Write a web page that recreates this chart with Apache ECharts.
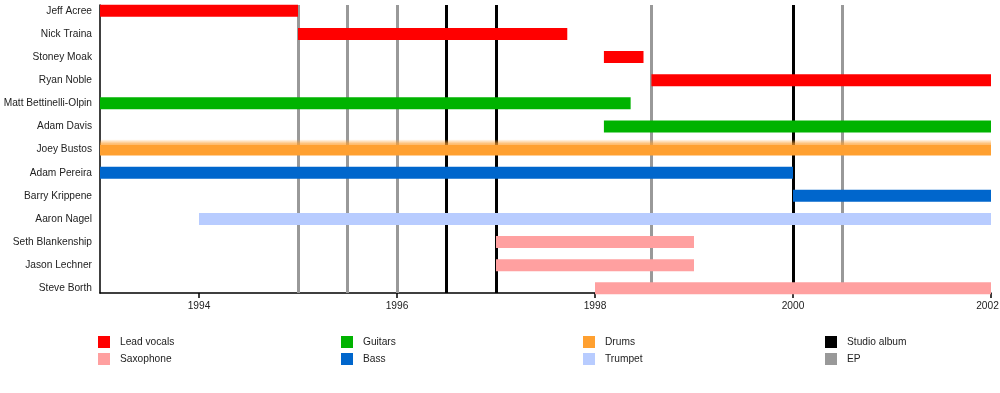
<!DOCTYPE html>
<html>
<head>
<meta charset="utf-8">
<script src="https://cdn.jsdelivr.net/npm/echarts@6/dist/echarts.min.js"></script>
<style>
html,body{margin:0;padding:0;background:#fff;}
#chart{width:1000px;height:393px;}
</style>
</head>
<body>
<div id="chart"></div>
<script>
// Members (rows, top to bottom)
const members = ['Jeff Acree','Nick Traina','Stoney Moak','Ryan Noble','Matt Bettinelli-Olpin','Adam Davis','Joey Bustos','Adam Pereira','Barry Krippene','Aaron Nagel','Seth Blankenship','Jason Lechner','Steve Borth'];
// Tenures per role: [rowIndex, startYear, endYear]
const leadVocals = [[0,1993.0,1995.0],[1,1995.0,1997.72],[2,1998.09,1998.49],[3,1998.57,2002.0]];
const guitars = [[4,1993.0,1998.36],[5,1998.09,2002.0]];
const drums = [[6,1993.0,2002.0]];
const bass = [[7,1993.0,2000.0],[8,2000.0,2002.0]];
const trumpet = [[9,1994.0,2002.0]];
const saxophone = [[10,1997.0,1999.0],[11,1997.0,1999.0],[12,1998.0,2002.0]];
// Release markers
const studioAlbums = [1996.5, 1997.0, 2000.0];
const eps = [1995.0, 1995.5, 1996.0, 1998.57, 2000.5];
// Tick labels
const yearTicks = [1994, 1996, 1998, 2000, 2002];

const colors = {
  'Lead vocals':'#ff0000','Saxophone':'#ffa0a0','Guitars':'#00b300','Bass':'#0066cc',
  'Drums':'#ffa030','Trumpet':'#b8ccff','Studio album':'#000000','EP':'#999999'
};
const BAR_H = 12;
const FONT = 'Liberation Sans, Arial, sans-serif';
const FS = 10.2;

function barRender(color, fuzzy){
  return function(params, api){
    const row = api.value(0);
    const p0 = api.coord([api.value(1), row]);
    const p1 = api.coord([api.value(2), row]);
    const children = [];
    if (fuzzy) {
      children.push({type:'rect', shape:{x:p0[0], y:p0[1]-BAR_H/2-4, width:p1[0]-p0[0], height:5},
        style:{fill:{type:'linear',x:0,y:0,x2:0,y2:1,colorStops:[{offset:0,color:'rgba(255,160,48,0.05)'},{offset:1,color:'rgba(255,160,48,0.8)'}]}}});
    }
    children.push({type:'rect', shape:{x:p0[0], y:p0[1]-BAR_H/2+(fuzzy?1:0), width:p1[0]-p0[0], height:BAR_H-(fuzzy?1:0)},
      style:{fill:color}});
    return {type:'group', children};
  };
}
function barSeries(name, data, fuzzy){
  return {
    name, type:'custom', z:5,
    itemStyle:{color:colors[name]},
    renderItem: barRender(colors[name], fuzzy),
    encode:{x:[1,2], y:0},
    data
  };
}
function lineSeries(name, values){
  return {
    name, type:'custom', z:2,
    itemStyle:{color:colors[name]},
    data: [],
    renderItem: function(){ return null; },
    markLine:{
      silent:true, symbol:['none','none'], label:{show:false},
      lineStyle:{color:colors[name], width:3, type:'solid'},
      emphasis:{disabled:true},
      animation:false,
      data: values.map(v => ({xAxis:v}))
    }
  };
}

const legendBase = {
  orient:'vertical', top:331, itemWidth:12, itemHeight:12, itemGap:5, icon:'rect',
  textStyle:{fontFamily:FONT, fontSize:FS, color:'#222', padding:[0,0,0,5]},
  selectedMode:false
};

const lastTick = yearTicks[yearTicks.length - 1];

const chart = echarts.init(document.getElementById('chart'), null, {renderer:'canvas'});
chart.setOption({
  animation:false,
  backgroundColor:'#fff',
  textStyle:{fontFamily:FONT},
  grid:{left:100, right:9, top:5, bottom:100, containLabel:false, outerBoundsMode:'none'},
  xAxis:{
    type:'value', min:1993, max:2002,
    axisLine:{show:true, onZero:false, lineStyle:{color:'#000', width:1.5}},
    axisTick:{show:true, customValues:yearTicks, length:5, lineStyle:{color:'#000', width:1.5}},
    axisLabel:{customValues:yearTicks,
      formatter:(v)=> v === lastTick ? '{last|' + v + '}' : String(v),
      rich:{last:{padding:[0,7,0,0], fontSize:FS, color:'#222', fontFamily:FONT}},
      color:'#222', fontSize:FS, margin:8, fontFamily:FONT},
    splitLine:{show:false}
  },
  yAxis:{
    type:'value', inverse:true, min:-0.25, max:12.2,
    axisLine:{show:true, onZero:false, lineStyle:{color:'#000', width:1.5}},
    axisTick:{show:false},
    splitLine:{show:false},
    axisLabel:{customValues:members.map((m,i)=>i), formatter:(v)=>members[Math.round(v)] || '',
      color:'#222', fontSize:FS, margin:8, fontFamily:FONT}
  },
  legend:[
    Object.assign({left:93, data:['Lead vocals','Saxophone']}, legendBase),
    Object.assign({left:336, data:['Guitars','Bass']}, legendBase),
    Object.assign({left:578, data:['Drums','Trumpet']}, legendBase),
    Object.assign({left:820, data:['Studio album','EP']}, legendBase)
  ],
  series:[
    lineSeries('EP', eps),
    lineSeries('Studio album', studioAlbums),
    barSeries('Lead vocals', leadVocals),
    barSeries('Saxophone', saxophone),
    barSeries('Guitars', guitars),
    barSeries('Bass', bass),
    barSeries('Drums', drums, true),
    barSeries('Trumpet', trumpet)
  ]
});
</script>
</body>
</html>
